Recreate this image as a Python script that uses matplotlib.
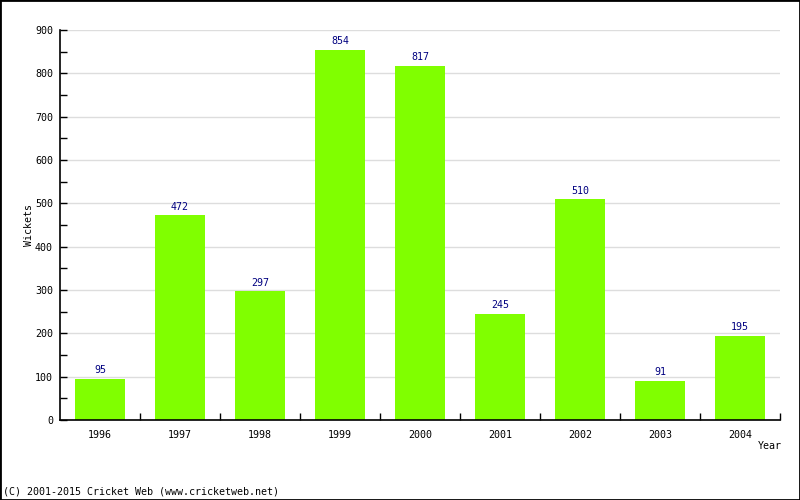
import numpy as np
import matplotlib
matplotlib.use("Agg")
import matplotlib.pyplot as plt
from matplotlib.patches import Rectangle

years = ["1996", "1997", "1998", "1999", "2000", "2001", "2002", "2003", "2004"]
wickets = [95, 472, 297, 854, 817, 245, 510, 91, 195]

plt.rcParams['font.family'] = ['DejaVu Sans Mono']
fs = 7.2

fig = plt.figure(figsize=(8, 5), dpi=100)
ax = fig.add_axes([0.075, 0.16, 0.9, 0.78])

x = np.arange(len(years))
ax.bar(x, wickets, width=0.62, color='#80ff00', zorder=2)
for xi, v in zip(x, wickets):
    ax.annotate(str(v), (xi, v), xytext=(0, 2.5), textcoords='offset points',
                ha='center', va='bottom', color='#000080', fontsize=fs)

ax.set_xlim(-0.5, len(years) - 0.5)
ax.set_ylim(0, 900)

# y axis: ticks every 100, minor every 50, pointing inward
ax.set_yticks(np.arange(0, 901, 100))
ax.set_yticks(np.arange(50, 900, 100), minor=True)
ax.tick_params(axis='y', which='both', direction='in', length=5, width=1,
               labelsize=fs, pad=5)
ax.yaxis.grid(True, which='major', color='#dddddd', linewidth=1, zorder=0)

# x axis: labels at centres, ticks at category boundaries
ax.set_xticks(x)
ax.set_xticklabels(years)
ax.set_xticks(np.arange(0.5, len(years), 1), minor=True)
ax.tick_params(axis='x', which='major', length=0, labelsize=fs, pad=7)
ax.tick_params(axis='x', which='minor', direction='in', length=5, width=1)
ax.set_axisbelow(True)

for side in ['top', 'right']:
    ax.spines[side].set_visible(False)
for side in ['left', 'bottom']:
    ax.spines[side].set_linewidth(1.2)

fig.text(770 / 800, 1 - 446 / 500, "Year", ha='center', va='center', fontsize=fs)
fig.text(29 / 800, 1 - 225 / 500, "Wickets", ha='center', va='center',
         rotation=90, fontsize=fs)
fig.text(3 / 800, 1 - 491 / 500, "(C) 2001-2015 Cricket Web (www.cricketweb.net)",
         ha='left', va='center', fontsize=fs)

fig.patches.append(Rectangle((0, 0), 1, 1, transform=fig.transFigure,
                             fill=False, edgecolor='black', linewidth=2))

fig.savefig("out.png", dpi=100)
